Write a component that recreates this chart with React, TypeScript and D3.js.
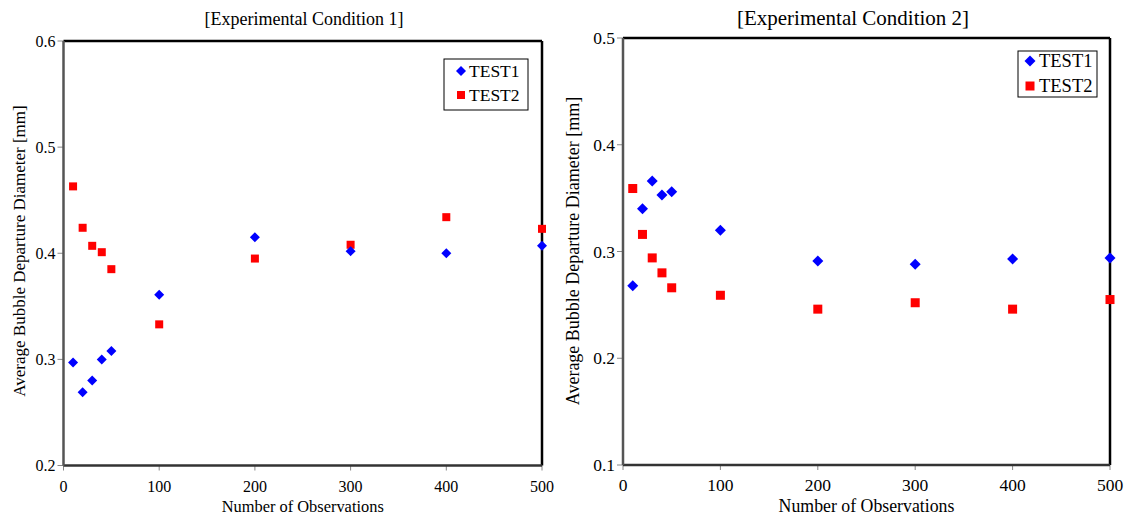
import React from "react";
import * as d3 from "d3";

const observations = [10, 20, 30, 40, 50, 100, 200, 300, 400, 500];
const cond1Test1 = [0.297, 0.269, 0.280, 0.300, 0.308, 0.361, 0.415, 0.402, 0.400, 0.407];
const cond1Test2 = [0.463, 0.424, 0.407, 0.401, 0.385, 0.333, 0.395, 0.408, 0.434, 0.423];
const cond2Test1 = [0.268, 0.340, 0.366, 0.353, 0.356, 0.320, 0.291, 0.288, 0.293, 0.294];
const cond2Test2 = [0.359, 0.316, 0.294, 0.280, 0.266, 0.259, 0.246, 0.252, 0.246, 0.255];
const xTicks = [0, 100, 200, 300, 400, 500];
const yTicks1 = [0.2, 0.3, 0.4, 0.5, 0.6];
const yTicks2 = [0.1, 0.2, 0.3, 0.4, 0.5];
const seriesNames = ["TEST1", "TEST2"];
const titles = ["[Experimental Condition 1]", "[Experimental Condition 2]"];
const xTitle = "Number of Observations";
const yTitle = "Average Bubble Departure Diameter [mm]";

const FONT = "'Liberation Serif', 'Times New Roman', serif";

type PanelProps = {
  title: string;
  t1: number[];
  t2: number[];
  yDomain: [number, number];
  yTicks: number[];
  x0: number; x1: number; y0: number; y1: number;
  legend: { x: number; y: number; w: number; h: number; mx: number; tx: number; r1: number; r2: number; fs: number };
  yLabelX: number;
  yLabelY: number;
  titleX: number;
  titleY: number;
  titleFs: number;
  tickFs: number;
  xTitleFs: number;
  xTitleY: number;
  yTitleFs: number;
  diamondR: number;
  squareS: number;
};

function Diamond({ cx, cy, r }: { cx: number; cy: number; r: number }) {
  return <path d={`M${cx},${cy - r}L${cx + r},${cy}L${cx},${cy + r}L${cx - r},${cy}Z`} fill="#0000FF" />;
}
function Square({ cx, cy, s }: { cx: number; cy: number; s: number }) {
  return <rect x={cx - s / 2} y={cy - s / 2} width={s} height={s} fill="#FF0000" />;
}

function Panel(p: PanelProps) {
  const x = d3.scaleLinear().domain([0, 500]).range([p.x0, p.x1]);
  const y = d3.scaleLinear().domain(p.yDomain).range([p.y1, p.y0]);
  const midX = (p.x0 + p.x1) / 2;
  const L = p.legend;
  return (
    <g fontFamily={FONT}>
      <text x={p.titleX} y={p.titleY} textAnchor="middle" fontSize={p.titleFs} fill="#000">{p.title}</text>
      {p.yTicks.map((t) => (
        <g key={"y" + t}>
          <line x1={p.x0 - 6} x2={p.x0} y1={y(t)} y2={y(t)} stroke="#888" strokeWidth={1} />
          <text x={p.x0 - 8} y={y(t)} dy="0.35em" textAnchor="end" fontSize={p.tickFs} fill="#000">{d3.format(".1f")(t)}</text>
        </g>
      ))}
      {xTicks.map((t) => (
        <g key={"x" + t}>
          <line x1={x(t)} x2={x(t)} y1={p.y1} y2={p.y1 + 5} stroke="#888" strokeWidth={1} />
          <text x={x(t)} y={p.y1 + 26} textAnchor="middle" fontSize={p.tickFs} fill="#000">{t}</text>
        </g>
      ))}
      <line x1={p.x0} x2={p.x1} y1={p.y0} y2={p.y0} stroke="#000" strokeWidth={2.5} />
      <line x1={p.x1} x2={p.x1} y1={p.y0} y2={p.y1} stroke="#000" strokeWidth={2.5} />
      <line x1={p.x0} x2={p.x1} y1={p.y1} y2={p.y1} stroke="#333" strokeWidth={2.5} />
      <line x1={p.x0} x2={p.x0} y1={p.y0} y2={p.y1} stroke="#555" strokeWidth={2.5} />
      <text x={midX} y={p.xTitleY} textAnchor="middle" fontSize={p.xTitleFs} fill="#000">{xTitle}</text>
      <text transform={`translate(${p.yLabelX},${p.yLabelY}) rotate(-90)`} textAnchor="middle" dy="0.35em" fontSize={p.yTitleFs} fill="#000">{yTitle}</text>
      {observations.map((o, i) => (
        <Square key={"s" + i} cx={x(o)} cy={y(p.t2[i])} s={p.squareS} />
      ))}
      {observations.map((o, i) => (
        <Diamond key={"d" + i} cx={x(o)} cy={y(p.t1[i])} r={p.diamondR} />
      ))}
      <rect x={L.x} y={L.y} width={L.w} height={L.h} fill="#fff" stroke="#000" strokeWidth={1} />
      <Diamond cx={L.x + L.mx} cy={L.y + L.r1} r={p.diamondR} />
      <text x={L.x + L.tx} y={L.y + L.r1} dy="0.35em" fontSize={L.fs} fill="#000">{seriesNames[0]}</text>
      <Square cx={L.x + L.mx} cy={L.y + L.r2} s={p.squareS} />
      <text x={L.x + L.tx} y={L.y + L.r2} dy="0.35em" fontSize={L.fs} fill="#000">{seriesNames[1]}</text>
    </g>
  );
}

export default function App() {
  return (
    <svg width={1129} height={516} style={{ display: "block", position: "absolute", left: 0, top: 0 }}>
      <rect width={1129} height={516} fill="#fff" />
      <Panel title={titles[0]} t1={cond1Test1} t2={cond1Test2} yDomain={[0.2, 0.6]} yTicks={yTicks1}
        x0={63.5} x1={542} y0={41} y1={465.5}
        legend={{ x: 444, y: 59, w: 84, h: 51, mx: 17, tx: 25, r1: 12, r2: 36, fs: 17.5 }}
        yLabelX={19} yLabelY={251}
        titleX={304} titleY={25} titleFs={18}
        tickFs={16} xTitleFs={16.4} xTitleY={512} yTitleFs={17}
        diamondR={5} squareS={8} />
      <Panel title={titles[1]} t1={cond2Test1} t2={cond2Test2} yDomain={[0.1, 0.5]} yTicks={yTicks2}
        x0={623} x1={1110} y0={38} y1={465}
        legend={{ x: 1018, y: 51, w: 79, h: 46, mx: 12, tx: 21, r1: 10, r2: 35, fs: 18.5 }}
        yLabelX={573} yLabelY={251}
        titleX={853} titleY={25} titleFs={21}
        tickFs={17.5} xTitleFs={17.8} xTitleY={512} yTitleFs={18}
        diamondR={5.5} squareS={9} />
    </svg>
  );
}
